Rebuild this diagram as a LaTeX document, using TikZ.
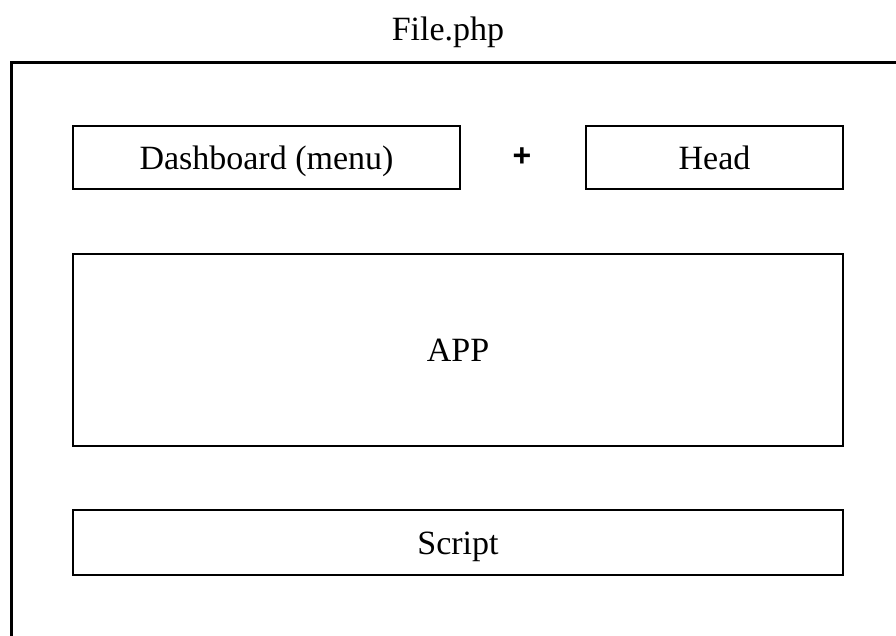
\documentclass[tikz,border=0pt]{standalone}
\usepackage{fontspec}
\setmainfont{Liberation Serif}
\newfontfamily\plusfont{Liberation Sans}
\begin{document}
\begin{tikzpicture}[x=1pt,y=-1pt,
  label font/.style={font=\fontsize{34}{40}\selectfont,text height=23pt,text depth=0pt},
  part/.style={draw=black,line width=2.6pt,fill=white,inner sep=0pt,label font},
  frameline/.style={draw=black,line width=3pt}]
\useasboundingbox (0,0) rectangle (896,635);
% page frame, running off the right and bottom edges
\coordinate (fbl) at (11,640);
\coordinate (ftl) at (11,62);
\coordinate (ftr) at (900,62);
\draw[frameline] (fbl) -- (ftl) -- (ftr);
\node[label font] (title) at (448,28.5) {File.php};
\node[part,minimum width=387pt,minimum height=63pt] (dash) at (266.5,157.5) {Dashboard (menu)};
\node[part,minimum width=257pt,minimum height=63pt] (head) at (714.5,157.5) {Head};
\node[font=\plusfont\bfseries\fontsize{32}{36}\selectfont] (plus) at (522,157) {+};
\node[part,minimum width=770pt,minimum height=192pt] (app) at (458,350) {APP};
\node[part,minimum width=770pt,minimum height=65pt] (script) at (458,542.5) {Script};
\end{tikzpicture}
\end{document}
